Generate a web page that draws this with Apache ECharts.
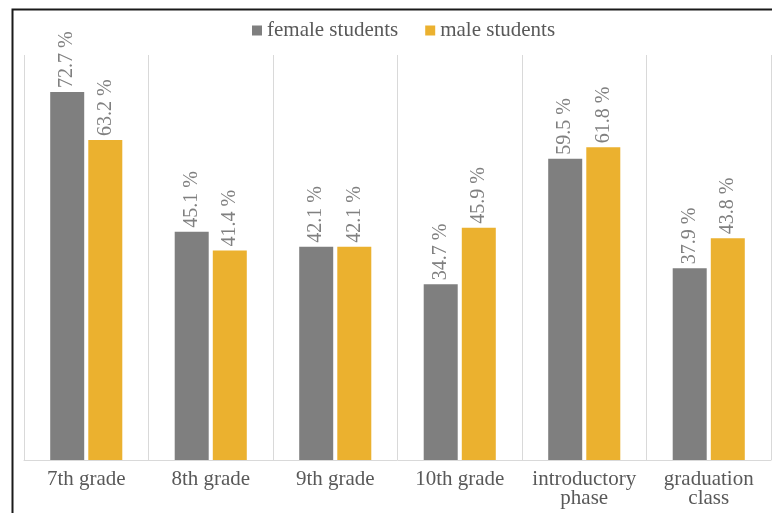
<!DOCTYPE html>
<html><head><meta charset="utf-8">
<script src="https://cdn.jsdelivr.net/npm/echarts@6/dist/echarts.min.js"></script>
<style>html,body{margin:0;padding:0;background:#fff}#c{width:772px;height:513px}</style>
</head><body><div id="c"></div>
<script>
var categories = ['7th grade', '8th grade', '9th grade', '10th grade', 'introductory\nphase', 'graduation\nclass'];
var femaleValues = [72.7, 45.1, 42.1, 34.7, 59.5, 37.9];
var maleValues = [63.2, 41.4, 42.1, 45.9, 61.8, 43.8];
var seriesNames = ['female students', 'male students'];

var chart = echarts.init(document.getElementById('c'), null, {renderer: 'canvas'});
var font = '"Liberation Serif", "Times New Roman", serif';
function lbl() {
  return {
    show: true, position: 'top', rotate: 90, align: 'left', verticalAlign: 'middle',
    distance: 4, color: '#808080', fontFamily: font, fontSize: 20,
    formatter: function (p) { return p.value.toFixed(1) + ' %'; }
  };
}
chart.setOption({
  animation: false,
  textStyle: {fontFamily: font},
  graphic: [{type: 'rect', left: 10, top: 7, shape: {width: 800, height: 540},
    style: {fill: 'none', stroke: '#1a1a1a', lineWidth: 2}, silent: true}],
  legend: {
    data: seriesNames, left: 247, top: 15, icon: 'rect', itemWidth: 10, itemHeight: 10,
    itemGap: 27, textStyle: {color: '#595959', fontSize: 21, fontFamily: font}
  },
  grid: {left: 24, right: 1, top: 55, bottom: 53, containLabel: false},
  xAxis: {
    type: 'category', data: categories,
    axisLine: {lineStyle: {color: '#d9d9d9', width: 1}}, axisTick: {show: false},
    splitLine: {show: true, lineStyle: {color: '#d9d9d9'}},
    axisLabel: {color: '#595959', fontSize: 21, fontFamily: font, margin: 10, lineHeight: 19, interval: 0}
  },
  yAxis: {type: 'value', min: 0, max: 80, show: false, splitLine: {show: false}},
  series: [
    {name: seriesNames[0], type: 'bar', data: femaleValues, barWidth: 34, barGap: '12%',
     itemStyle: {color: '#7f7f7f'}, label: lbl()},
    {name: seriesNames[1], type: 'bar', data: maleValues, barWidth: 34,
     itemStyle: {color: '#ebb12f'}, label: lbl()}
  ]
});
</script></body></html>
